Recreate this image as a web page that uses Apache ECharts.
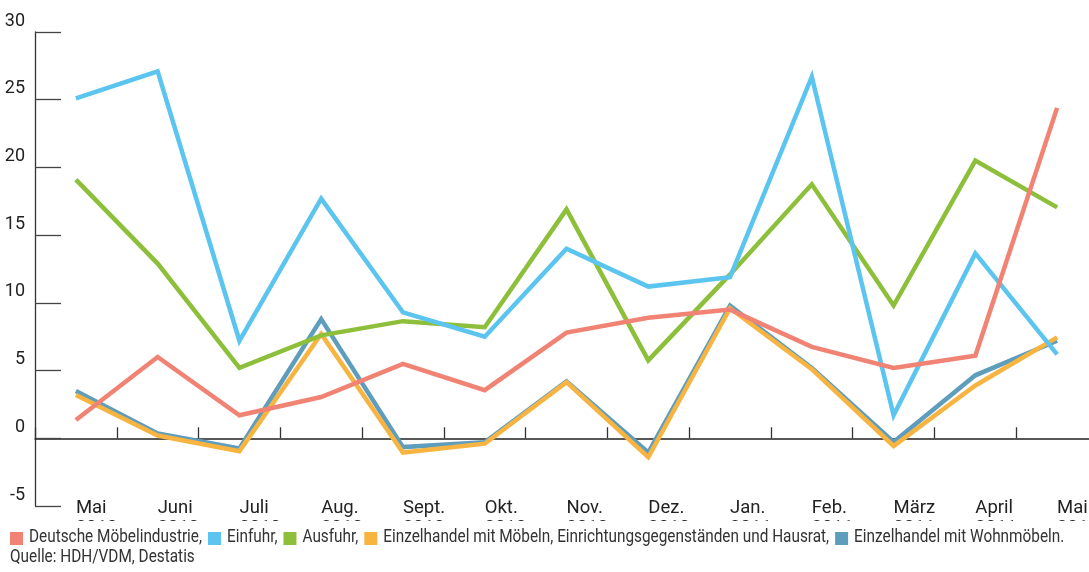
<!DOCTYPE html>
<html>
<head>
<meta charset="utf-8">
<script src="https://cdn.jsdelivr.net/npm/echarts@6/dist/echarts.min.js"></script>
<style>
html,body{margin:0;padding:0;background:#fff;}
#c{width:1089px;height:572px;}
</style>
</head>
<body>
<div id="c"></div>
<script>
var months = ['Mai','Juni','Juli','Aug.','Sept.','Okt.','Nov.','Dez.','Jan.','Feb.','März','April','Mai'];
var years = ['2010','2010','2010','2010','2010','2010','2010','2010','2011','2011','2011','2011','2011'];
var seriesNames = ['Deutsche Möbelindustrie','Einfuhr','Ausfuhr','Einzelhandel mit Möbeln, Einrichtungsgegenständen und Hausrat','Einzelhandel mit Wohnmöbeln'];
var moebelindustrie = [1.35, 6.0, 1.7, 3.05, 5.5, 3.55, 7.8, 8.9, 9.5, 6.75, 5.2, 6.1, 24.4];
var einfuhr = [25.1, 27.1, 7.2, 17.7, 9.3, 7.5, 14.0, 11.2, 11.9, 26.7, 1.7, 13.65, 6.2];
var ausfuhr = [19.1, 12.9, 5.2, 7.6, 8.65, 8.2, 16.9, 5.75, 12.1, 18.75, 9.8, 20.5, 17.05];
var einzelMoebel = [3.2, 0.2, -0.95, 7.7, -1.05, -0.4, 4.15, -1.4, 9.6, 5.1, -0.57, 3.9, 7.45];
var einzelWohn = [3.5, 0.35, -0.75, 8.8, -0.65, -0.3, 4.2, -1.05, 9.8, 5.2, -0.27, 4.65, 7.2];
var yTicks = {min: -5, max: 30, interval: 5};
var sourceText = 'Quelle: HDH/VDM, Destatis';

var colors = ['#F08373', '#5BC5F0', '#8DBF3B', '#F8B440', '#5F9DBD'];
var FONT = "Roboto, 'Liberation Sans', sans-serif";

var cats = months.map(function(m, i){ return m + '\n' + years[i]; });
var valuesList = [moebelindustrie, einfuhr, ausfuhr, einzelMoebel, einzelWohn];
var drawOrder = [4, 3, 2, 1, 0];

var series = drawOrder.map(function(idx){
  return {
    name: seriesNames[idx],
    type: 'line',
    xAxisIndex: 0,
    data: valuesList[idx],
    symbol: 'none',
    lineStyle: {width: 4.5, color: colors[idx], join: 'miter'},
    itemStyle: {color: colors[idx]},
    emphasis: {disabled: true},
    animation: false
  };
});

// custom condensed legend
var legendFont = '17.5px ' + FONT;
var cv = document.createElement('canvas').getContext('2d');
cv.font = legendFont;
var legendLabels = seriesNames.map(function(n, i){ return n + (i === seriesNames.length - 1 ? '.' : ','); });
var sx = 173 / cv.measureText(legendLabels[0]).width;
var graphics = [
  {type: 'rect', left: 0, top: 521, shape: {width: 1089, height: 51}, style: {fill: '#fff'}, z: 10, silent: true}
];
var cx = 10;
legendLabels.forEach(function(lbl, i){
  graphics.push({type: 'rect', x: cx, y: 532, shape: {x: 0, y: 0, width: 13, height: 13}, style: {fill: colors[i]}, z: 20, silent: true});
  var tx = cx + 19;
  graphics.push({type: 'text', x: tx, y: 529, scaleX: sx, z: 20, silent: true,
    style: {text: lbl, font: legendFont, fill: '#333', textVerticalAlign: 'top', verticalAlign: 'top'}});
  cx = tx + cv.measureText(lbl).width * sx + 6;
});
graphics.push({type: 'text', x: 10, y: 549, scaleX: sx, z: 20, silent: true,
  style: {text: sourceText, font: legendFont, fill: '#333', textVerticalAlign: 'top', verticalAlign: 'top'}});

var chart = echarts.init(document.getElementById('c'));
chart.setOption({
  animation: false,
  grid: {left: 35, top: 32, width: 1063, height: 474, containLabel: false, outerBoundsMode: 'none'},
  graphic: graphics,
  xAxis: [
    {
      type: 'category', data: cats, boundaryGap: true,
      axisLine: {onZero: true, lineStyle: {color: '#222', width: 1.5}},
      axisTick: {show: true, inside: true, length: 11, interval: 0, lineStyle: {color: '#333', width: 1.3}},
      axisLabel: {show: false},
      splitLine: {show: false}
    },
    {
      type: 'category', data: cats, boundaryGap: true, position: 'bottom', offset: -8,
      axisLine: {show: false, onZero: false},
      axisTick: {show: false},
      axisLabel: {show: true, interval: 0, align: 'left', margin: 0, fontFamily: FONT, fontSize: 18.5, lineHeight: 20, color: '#222', hideOverlap: false},
      splitLine: {show: false}
    }
  ],
  yAxis: {
    type: 'value', min: yTicks.min, max: yTicks.max, interval: yTicks.interval,
    axisLine: {show: true, lineStyle: {color: '#333', width: 1.3}},
    axisTick: {show: true, inside: true, length: 26, lineStyle: {color: '#444', width: 1.3}},
    axisLabel: {margin: 10, fontFamily: FONT, fontSize: 18, color: '#222', verticalAlign: 'bottom', lineHeight: 18, padding: [0, 0, 2, 0]},
    splitLine: {show: false}
  },
  series: series
});
</script>
</body>
</html>
